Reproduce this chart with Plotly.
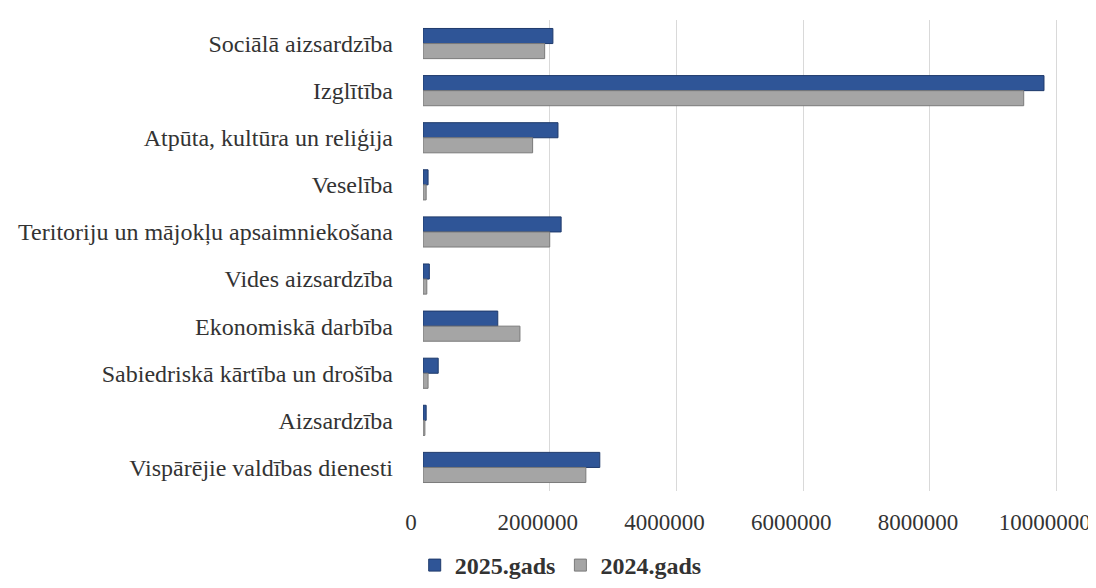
import plotly.graph_objects as go

categories = [
    "Sociālā aizsardzība",
    "Izglītība",
    "Atpūta, kultūra un reliģija",
    "Veselība",
    "Teritoriju un mājokļu apsaimniekošana",
    "Vides aizsardzība",
    "Ekonomiskā darbība",
    "Sabiedriskā kārtība un drošība",
    "Aizsardzība",
    "Vispārējie valdības dienesti",
]
values_2025 = [2050000, 9800000, 2130000, 80000, 2180000, 100000, 1180000, 240000, 50000, 2790000]
values_2024 = [1920000, 9480000, 1730000, 50000, 2000000, 60000, 1530000, 80000, 30000, 2570000]
tick_vals = [0, 2000000, 4000000, 6000000, 8000000, 10000000]
tick_text = ["0", "2000000", "4000000", "6000000", "8000000", "10000000"]

font_family = "Liberation Serif, Times New Roman, serif"
text_color = "#333333"

fig = go.Figure()
fig.add_trace(go.Bar(
    y=categories, x=values_2025, orientation="h", name="2025.gads",
    marker=dict(color="#2F5597", line=dict(color="#1F3A6B", width=1)),
))
fig.add_trace(go.Bar(
    y=categories, x=values_2024, orientation="h", name="2024.gads",
    marker=dict(color="#A5A5A5", line=dict(color="#7A7A7A", width=1)),
))

# page has an 8px body margin, so the figure is 8px smaller on each axis
fig.update_layout(
    width=1088, height=580,
    paper_bgcolor="white", plot_bgcolor="white",
    margin=dict(l=415, r=33, t=12, b=97, autoexpand=False),
    barmode="group", bargap=0.36, bargroupgap=0,
    font=dict(family=font_family, size=24, color=text_color),
    showlegend=True,
    legend=dict(
        orientation="h", xref="container", yref="container",
        x=0.508, xanchor="center", y=-0.03, yanchor="bottom",
        font=dict(family=font_family, size=24, color=text_color, weight="bold"),
        itemwidth=30, tracegroupgap=0,
    ),
    xaxis=dict(
        range=[0, 10100000], tickvals=tick_vals, ticktext=tick_text,
        showgrid=True, gridcolor="#D9D9D9", gridwidth=1,
        zeroline=False, showline=False, ticks="",
        ticklabelstandoff=15, ticklabelshift=-12, automargin=False,
        tickfont=dict(family=font_family, size=23, color=text_color),
    ),
    yaxis=dict(
        autorange="reversed", showgrid=False, zeroline=False, showline=False,
        ticks="", ticklabelstandoff=29, automargin=False,
        tickfont=dict(family=font_family, size=24, color=text_color),
    ),
)

fig.write_html("out.html")
